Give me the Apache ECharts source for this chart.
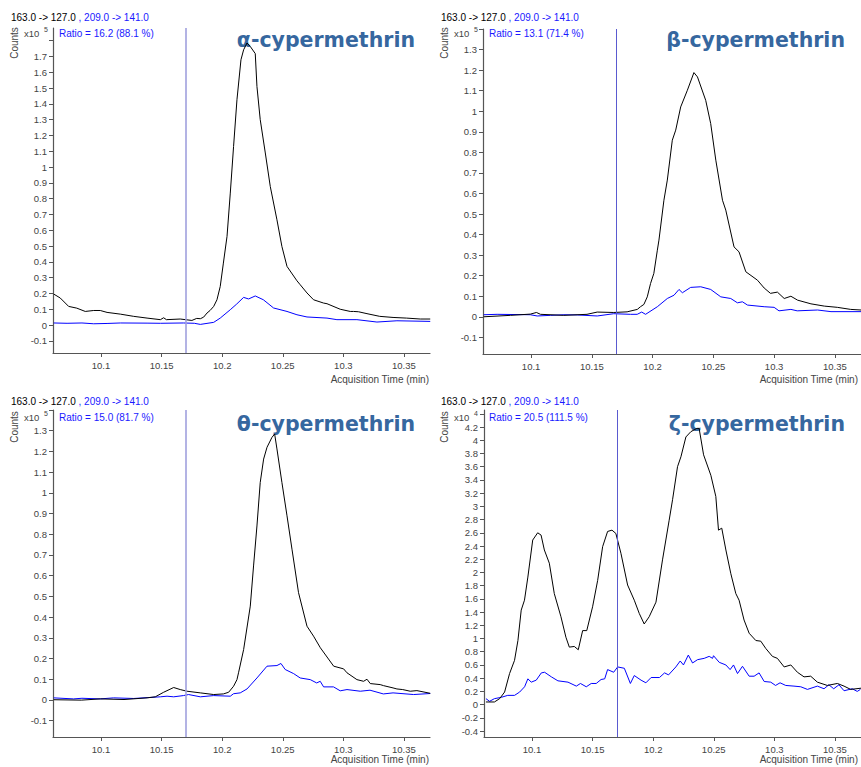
<!DOCTYPE html>
<html>
<head>
<meta charset="utf-8">
<script src="https://cdn.jsdelivr.net/npm/echarts@6/dist/echarts.min.js"></script>
<style>html,body{margin:0;padding:0;background:#fff}#c{width:861px;height:767px}</style>
</head>
<body>
<div id="c"></div>
<script>
// ---------- data ----------
const titles = ['α-cypermethrin', 'β-cypermethrin', 'θ-cypermethrin', 'ζ-cypermethrin'];
const ratioTexts = ['Ratio = 16.2 (88.1 %)', 'Ratio = 13.1 (71.4 %)', 'Ratio = 15.0 (81.7 %)', 'Ratio = 20.5 (111.5 %)'];
const exponents = ['5', '5', '5', '4'];
const quantLabel = '163.0 -> 127.0';
const qualLabel = ', 209.0 -> 141.0';
const xLabel = 'Acquisition Time (min)';
const yLabel = 'Counts';
const markerTime = 10.1677;

const xTicks = [10.1, 10.15, 10.2, 10.25, 10.3, 10.35];
const yTicks1 = [-0.1, 0, 0.1, 0.2, 0.3, 0.4, 0.5, 0.6, 0.7, 0.8, 0.9, 1, 1.1, 1.2, 1.3, 1.4, 1.5, 1.6, 1.7];
const yTicks2 = [-0.1, 0, 0.1, 0.2, 0.3, 0.4, 0.5, 0.6, 0.7, 0.8, 0.9, 1, 1.1, 1.2, 1.3];
const yTicks3 = [-0.1, 0, 0.1, 0.2, 0.3, 0.4, 0.5, 0.6, 0.7, 0.8, 0.9, 1, 1.1, 1.2, 1.3];
const yTicks4 = [-0.4, -0.2, 0, 0.2, 0.4, 0.6, 0.8, 1, 1.2, 1.4, 1.6, 1.8, 2, 2.2, 2.4, 2.6, 2.8, 3, 3.2, 3.4, 3.6, 3.8, 4, 4.2];
const yExtraTicks = [[1.8], [1.4], [1.4], [4.4]];

// alpha: quantifier (black)
const alphaQuantT = [10.061,10.0664,10.0733,10.080,10.087,10.094,10.0994,10.105,10.116,10.127,10.138,10.149,10.1517,10.154,10.1654,10.175,10.179,10.182,10.1847,10.1875,10.190,10.193,10.1957,10.1984,10.201,10.204,10.2067,10.2094,10.2122,10.2155,10.2177,10.2205,10.2232,10.2273,10.2287,10.2314,10.2356,10.2397,10.2452,10.2493,10.2535,10.2617,10.2644,10.270,10.2754,10.2837,10.2865,10.2974,10.3057,10.3084,10.3125,10.3195,10.330,10.341,10.352,10.3635,10.3717];
const alphaQuantV = [0.196,0.171,0.118,0.107,0.086,0.092,0.092,0.080,0.069,0.055,0.044,0.034,0.046,0.034,0.038,0.029,0.042,0.040,0.050,0.076,0.092,0.118,0.160,0.244,0.392,0.561,0.835,1.130,1.426,1.679,1.742,1.785,1.763,1.718,1.510,1.300,1.089,0.877,0.666,0.497,0.371,0.280,0.255,0.203,0.160,0.139,0.135,0.100,0.086,0.086,0.084,0.072,0.055,0.048,0.044,0.038,0.038];
// alpha: qualifier (blue)
const alphaQualT = [10.061,10.072,10.0843,10.094,10.105,10.116,10.138,10.149,10.168,10.177,10.182,10.193,10.1984,10.2067,10.212,10.2177,10.2218,10.2273,10.234,10.2424,10.2535,10.2617,10.270,10.2865,10.2947,10.3112,10.3277,10.3442,10.3717];
const alphaQualV = [0.013,0.011,0.013,0.008,0.010,0.013,0.012,0.011,0.013,0.011,0.004,0.017,0.044,0.097,0.133,0.175,0.165,0.184,0.160,0.108,0.086,0.065,0.051,0.044,0.034,0.034,0.019,0.027,0.023];

// beta
const betaQuantT = [10.061,10.083,10.0994,10.1044,10.1077,10.1269,10.146,10.1544,10.168,10.179,10.1874,10.190,10.1928,10.1956,10.1983,10.201,10.2039,10.2052,10.2093,10.2121,10.2162,10.219,10.2231,10.2286,10.234,10.2369,10.2437,10.2478,10.252,10.2575,10.2602,10.267,10.2711,10.2767,10.2863,10.2918,10.297,10.3027,10.3083,10.3138,10.3193,10.3303,10.3413,10.352,10.363,10.3715];
const betaQuantV = [0.000,0.007,0.013,0.021,0.012,0.007,0.012,0.023,0.021,0.024,0.036,0.049,0.060,0.097,0.162,0.211,0.324,0.373,0.567,0.665,0.859,0.908,1.021,1.102,1.188,1.167,1.053,0.940,0.762,0.567,0.519,0.340,0.316,0.219,0.178,0.140,0.114,0.120,0.089,0.100,0.081,0.063,0.052,0.046,0.036,0.033];
const betaQualT = [10.061,10.072,10.0994,10.105,10.116,10.127,10.138,10.1544,10.168,10.1818,10.1873,10.191,10.1942,10.2039,10.2121,10.2176,10.2217,10.2245,10.2313,10.2396,10.2478,10.2561,10.2643,10.2698,10.2739,10.2781,10.2918,10.300,10.304,10.3138,10.319,10.3358,10.3468,10.3715];
const betaQualV = [0.010,0.012,0.010,0.004,0.007,0.010,0.009,0.004,0.015,0.012,0.012,0.023,0.012,0.049,0.089,0.105,0.133,0.117,0.143,0.146,0.133,0.097,0.089,0.068,0.073,0.057,0.049,0.046,0.029,0.036,0.029,0.033,0.025,0.025];

// theta
const thetaQuantT = [10.061,10.0838,10.0994,10.119,10.138,10.1448,10.1517,10.160,10.1654,10.171,10.182,10.193,10.201,10.2053,10.2094,10.2122,10.2135,10.2177,10.2232,10.2259,10.2287,10.2314,10.2342,10.237,10.2411,10.2433,10.2452,10.2493,10.2535,10.2576,10.263,10.270,10.2754,10.281,10.292,10.3002,10.303,10.3112,10.3167,10.3195,10.3222,10.3304,10.3332,10.341,10.3442,10.349,10.3552,10.3607,10.3717];
const thetaQuantV = [0.001,-0.001,0.005,0.002,0.010,0.015,0.037,0.060,0.050,0.042,0.034,0.026,0.029,0.037,0.066,0.098,0.131,0.243,0.453,0.647,0.840,1.050,1.163,1.220,1.268,1.284,1.212,1.050,0.889,0.728,0.518,0.356,0.308,0.252,0.163,0.150,0.131,0.098,0.090,0.100,0.079,0.074,0.069,0.058,0.053,0.050,0.042,0.045,0.032];
const thetaQualT = [10.061,10.0774,10.0843,10.0994,10.1104,10.127,10.138,10.149,10.1545,10.160,10.168,10.1723,10.182,10.193,10.2067,10.2094,10.2149,10.2205,10.2287,10.237,10.2452,10.2485,10.252,10.259,10.2644,10.2727,10.278,10.2809,10.2837,10.2919,10.2974,10.303,10.314,10.322,10.333,10.341,10.358,10.3717];
const thetaQualV = [0.010,0.005,0.008,0.005,0.010,0.007,0.011,0.015,0.018,0.015,0.021,0.026,0.015,0.021,0.018,0.030,0.034,0.053,0.106,0.163,0.166,0.176,0.147,0.127,0.106,0.098,0.082,0.090,0.063,0.063,0.044,0.050,0.042,0.047,0.029,0.034,0.026,0.031];

// zeta (x10^4)
const zetaQuantT = [10.062,10.069,10.0733,10.0774,10.0815,10.0856,10.0884,10.0911,10.0938,10.0966,10.1006,10.1047,10.1075,10.1102,10.1143,10.1184,10.1239,10.128,10.1308,10.1349,10.1382,10.1418,10.1452,10.15,10.1542,10.1583,10.1624,10.166,10.1692,10.1734,10.1789,10.1844,10.1885,10.1926,10.1967,10.2023,10.2077,10.2132,10.216,10.2201,10.2229,10.227,10.2311,10.236,10.2379,10.2416,10.2476,10.2517,10.2539,10.2566,10.26,10.2641,10.2682,10.2709,10.275,10.2792,10.2847,10.2888,10.2929,10.2984,10.3025,10.3081,10.3136,10.319,10.3245,10.33,10.3355,10.3437,10.352,10.3575,10.363,10.3721];
const zetaQuantV = [0.04,0.04,0.09,0.19,0.47,0.67,0.97,1.43,1.58,1.93,2.49,2.60,2.565,2.34,2.14,1.68,1.33,1.02,0.87,0.88,0.83,1.12,1.12,1.48,1.88,2.39,2.62,2.64,2.59,2.29,1.81,1.58,1.38,1.22,1.33,1.55,2.19,2.79,3.10,3.60,3.75,4.05,4.13,4.18,4.18,3.78,3.47,3.15,2.64,2.67,2.34,1.98,1.68,1.58,1.28,1.08,0.97,0.96,0.85,0.73,0.70,0.57,0.60,0.49,0.42,0.43,0.34,0.29,0.32,0.28,0.23,0.25];
const zetaQualT = [10.062,10.065,10.069,10.0746,10.080,10.0856,10.0898,10.0939,10.0966,10.0994,10.1035,10.1077,10.1104,10.116,10.1214,10.1297,10.1366,10.14,10.1448,10.1489,10.153,10.157,10.16,10.1624,10.1674,10.1707,10.1762,10.1812,10.1844,10.19,10.194,10.1983,10.2052,10.2094,10.2127,10.2187,10.2223,10.225,10.229,10.2325,10.2366,10.2421,10.2462,10.249,10.2498,10.2545,10.26,10.2635,10.2663,10.2696,10.2737,10.2792,10.2833,10.2874,10.2916,10.297,10.301,10.3047,10.3094,10.3162,10.3218,10.3273,10.3355,10.341,10.345,10.349,10.3533,10.3575,10.3643,10.3684,10.371];
const zetaQualV = [0.09,0.05,0.09,0.11,0.14,0.14,0.19,0.27,0.39,0.34,0.37,0.48,0.49,0.42,0.36,0.34,0.28,0.32,0.27,0.32,0.32,0.38,0.39,0.53,0.49,0.57,0.55,0.32,0.44,0.37,0.33,0.41,0.41,0.48,0.45,0.57,0.66,0.60,0.75,0.63,0.68,0.70,0.73,0.70,0.74,0.64,0.60,0.53,0.60,0.47,0.58,0.43,0.43,0.48,0.35,0.34,0.29,0.33,0.29,0.28,0.27,0.23,0.28,0.24,0.30,0.24,0.30,0.21,0.24,0.20,0.23];

// ---------- layout ----------
const panels = [
  {left: 53, top: 28, width: 377, height: 325, ymin: -0.177, ymax: 1.88, ticks: yTicks1, qT: alphaQuantT, qV: alphaQuantV, lT: alphaQualT, lV: alphaQualV, mk: {color: '#a0a0de', width: 1.6}},
  {left: 483, top: 29, width: 378, height: 325, ymin: -0.181, ymax: 1.4, ticks: yTicks2, qT: betaQuantT, qV: betaQuantV, lT: betaQualT, lV: betaQualV, mk: {color: '#5a5ad0', width: 1}},
  {left: 53, top: 410, width: 377, height: 327, ymin: -0.179, ymax: 1.4, ticks: yTicks3, qT: thetaQuantT, qV: thetaQuantV, lT: thetaQualT, lV: thetaQualV, mk: {color: '#a0a0de', width: 1.6}},
  {left: 484, top: 410, width: 377, height: 327, ymin: -0.49, ymax: 4.458, ticks: yTicks4, qT: zetaQuantT, qV: zetaQuantV, lT: zetaQualT, lV: zetaQualV, mk: {color: '#5a5ad0', width: 1}}
];
const xMin = 10.0604, xMax = 10.3715;
const axisColor = '#555';
const labelColor = '#444';
const fontFam = '"Liberation Sans", Arial, sans-serif';

const zip = (a, b) => a.map((t, i) => [t, b[i]]);

const grid = [], xAxis = [], yAxis = [], series = [], graphic = [];
panels.forEach((p, i) => {
  grid.push({left: p.left, top: p.top, width: p.width, height: p.height, containLabel: false});
  xAxis.push({
    type: 'value', gridIndex: i, min: xMin, max: xMax,
    axisLine: {show: true, onZero: false, lineStyle: {color: axisColor, width: 1.2}},
    axisTick: {show: true, length: 4, customValues: xTicks, lineStyle: {color: axisColor}},
    axisLabel: {show: true, customValues: xTicks, color: labelColor, fontSize: 9.5, fontFamily: fontFam, margin: 7, formatter: v => String(v)},
    splitLine: {show: false}
  });
  yAxis.push({
    type: 'value', gridIndex: i, min: p.ymin, max: p.ymax,
    axisLine: {show: true, onZero: false, lineStyle: {color: axisColor, width: 1.2}},
    axisTick: {show: true, length: 4, customValues: p.ticks.concat(yExtraTicks[i]), lineStyle: {color: axisColor}},
    axisLabel: {show: true, customValues: p.ticks, color: labelColor, fontSize: 9.5, fontFamily: fontFam, margin: 6, formatter: v => String(Math.round(v * 10) / 10)},
    splitLine: {show: false}
  });
  series.push({
    type: 'line', xAxisIndex: i, yAxisIndex: i, data: zip(p.lT, p.lV),
    showSymbol: false, symbol: 'none', lineStyle: {color: '#0000ff', width: 1}, itemStyle: {color: '#0000ff'},
    animation: false, silent: true, z: 3
  });
  series.push({
    type: 'line', xAxisIndex: i, yAxisIndex: i, data: zip(p.qT, p.qV),
    showSymbol: false, symbol: 'none', lineStyle: {color: '#000000', width: 1}, itemStyle: {color: '#000'},
    animation: false, silent: true, z: 4,
    markLine: {symbol: ['none', 'none'], silent: true, animation: false, label: {show: false},
      lineStyle: {color: p.mk.color, width: p.mk.width, type: 'solid'}, data: [{xAxis: markerTime}]}
  });

  const ox = i % 2 === 0 ? 0 : 430;
  const oy = i < 2 ? 0 : 384;
  // header
  graphic.push({type: 'text', x: ox + 11, y: oy + 17.5, silent: true, style: {
    text: '{a|' + quantLabel + '} {b|' + qualLabel + '}', verticalAlign: 'middle', align: 'left',
    fontSize: 10, fontFamily: fontFam,
    rich: {a: {fill: '#000', fontSize: 10, fontFamily: fontFam}, b: {fill: '#1a1aff', fontSize: 10, fontFamily: fontFam}}
  }});
  // x10^n
  graphic.push({type: 'text', x: ox + 24, y: oy + 33, silent: true, style: {text: 'x10', fill: labelColor, fontSize: 9.5, fontFamily: fontFam, verticalAlign: 'middle', align: 'left'}});
  graphic.push({type: 'text', x: ox + 44, y: oy + 29, silent: true, style: {text: exponents[i], fill: labelColor, fontSize: 7, fontFamily: fontFam, verticalAlign: 'middle', align: 'left'}});
  // Counts
  graphic.push({type: 'text', x: ox + 14, y: oy + 43, rotation: Math.PI / 2, silent: true, style: {text: yLabel, fill: labelColor, fontSize: 10, fontFamily: fontFam, verticalAlign: 'middle', align: 'center'}});
  // Ratio
  graphic.push({type: 'text', x: ox + 59, y: oy + 33.5, silent: true, style: {text: ratioTexts[i], fill: '#1a1aff', fontSize: 10, fontFamily: fontFam, verticalAlign: 'middle', align: 'left'}});
  // compound title
  graphic.push({type: 'text', x: ox + 415, y: oy + 40, silent: true, style: {text: titles[i], fill: '#36679f', fontSize: 20.5, fontWeight: 'bold', fontFamily: '"DejaVu Sans", sans-serif', verticalAlign: 'middle', align: 'right'}});
  // x axis name
  graphic.push({type: 'text', x: i % 2 === 0 ? 429 : 858, y: i < 2 ? 379 : 759, silent: true, style: {text: xLabel, fill: labelColor, fontSize: 10, fontFamily: fontFam, verticalAlign: 'middle', align: 'right'}});
});

const chart = echarts.init(document.getElementById('c'), null, {renderer: 'svg', width: 861, height: 767});
chart.setOption({animation: false, backgroundColor: '#fff', grid, xAxis, yAxis, series, graphic});
</script>
</body>
</html>
